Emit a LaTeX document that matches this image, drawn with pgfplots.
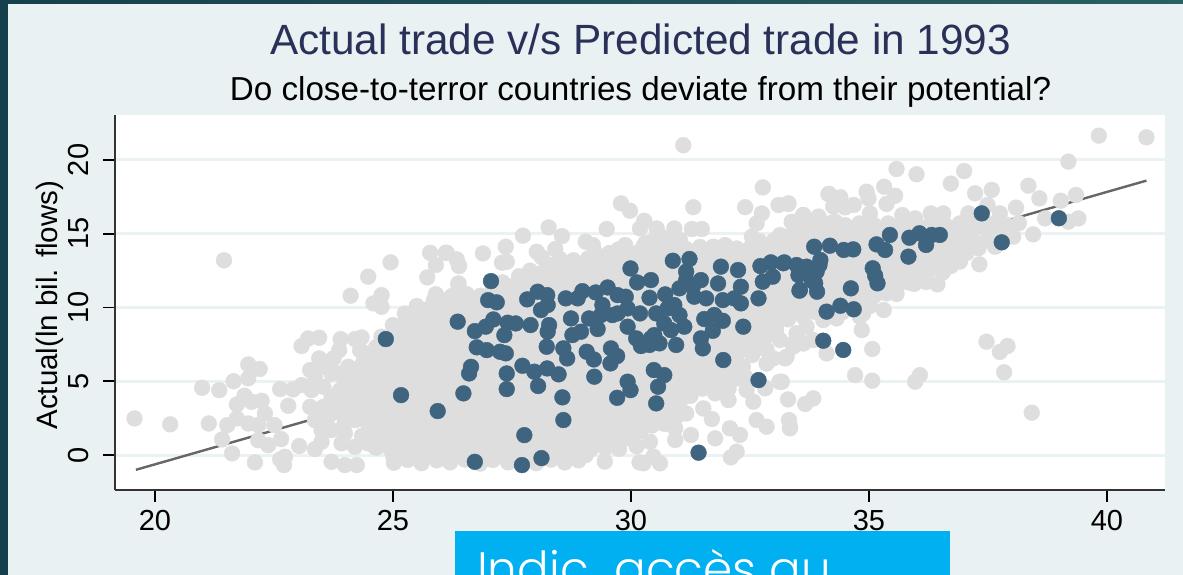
\documentclass[border=0pt]{standalone}
\usepackage{pgfplots}
\pgfplotsset{compat=1.18}
\usepackage{fontspec}
\setmainfont{Liberation Sans}
\newfontfamily\boxfont{Poppins Light}
\definecolor{bgc}{HTML}{EAF1F3}
\definecolor{gridc}{HTML}{EAF2F4}
\definecolor{greyc}{HTML}{DEDEDE}
\definecolor{bluec}{HTML}{3E6480}
\definecolor{linec}{HTML}{666666}
\definecolor{stripe}{HTML}{163F4E}
\definecolor{stripeb}{HTML}{2A6062}
\definecolor{titlec}{HTML}{2A3158}
\definecolor{boxc}{HTML}{00B0F0}
\begin{document}
\begin{tikzpicture}[x=1pt,y=1pt]
\useasboundingbox (0,0) rectangle (1183,575);
\fill[bgc] (0,0) rectangle (1183,575);
\fill[stripe] (0,0) rectangle (8,575);
\fill[left color=stripe,right color=stripeb,draw=none] (0,571) rectangle (1183,575);
\node[anchor=base,text=titlec,font=\fontsize{42.3}{42}\selectfont,inner sep=0pt] at (640.5,520) {Actual trade v/s Predicted trade in 1993};
\node[anchor=base,text=black,font=\fontsize{33.2}{33}\selectfont,inner sep=0pt] at (640.5,474) {Do close-to-terror countries deviate from their potential?};
\begin{axis}[
  at={(115pt,85pt)},anchor=south west,
  scale only axis,width=1050pt,height=375pt,
  xmin=19.16,xmax=41.22,ymin=-2.37,ymax=23.05,
  axis lines=left,axis line style={-,line width=2pt,draw=black!80},
  axis background/.style={fill=white},
  clip=true,
  xtick={20,25,30,35,40},ytick={0,5,10,15,20},
  tick align=outside,tick pos=left,
  major tick length=12pt,
  every tick/.style={black,line width=1.8pt},
  ymajorgrids,grid style={gridc,line width=3pt},
  /pgf/number format/assume math mode=true,
  tick label style={font=\fontsize{29}{29}\selectfont,text=black},
  yticklabel style={rotate=90,anchor=south,inner xsep=0pt,inner ysep=14pt},
  xticklabel style={anchor=north,inner xsep=0pt,inner ysep=8pt},
  ylabel={Actual(ln bil. flows)},
  every axis y label/.style={at={(axis description cs:-0.062,0.493)},anchor=center,rotate=90,font=\fontsize{29.5}{29.5}\selectfont},
]
\addplot[only marks,mark=*,mark size=7.9pt,color=greyc,mark options={draw=none,fill=greyc}] coordinates {
(19.57,2.48)(20.32,2.08)(21.45,13.2)(20.99,4.56)(21.35,4.4)(21.65,5.0)(21.96,6.14)(22.2,5.83)(21.96,5.2)
(21.88,4.02)(21.72,3.43)(22.24,3.68)(22.03,3.61)(22.31,2.82)(21.72,2.48)(21.52,2.03)(21.13,2.14)(21.96,2.14)(22.17,2.03)(22.51,2.03)
(21.41,1.06)(21.62,0.11)(22.1,-0.5)(22.63,-0.3)(22.71,-0.68)(22.73,-0.12)(22.17,1.0)(22.38,0.67)(22.65,1.08)(23.03,0.61)(23.36,0.4)(23.5,0.9)
(22.63,4.47)(22.9,4.45)(22.8,3.34)(23.08,7.39)(23.22,7.9)(23.45,7.95)(23.9,7.86)(24.2,7.86)(24.34,7.97)(24.31,7.11)(23.87,7.11)(23.75,6.55)(23.45,6.55)
(23.26,5.76)(23.54,5.98)(23.36,5.3)(23.08,4.74)(23.29,4.4)(23.54,4.63)(23.71,5.53)(24.06,5.98)(23.85,5.53)(23.89,4.4)(23.71,3.95)(23.26,3.27)(23.54,3.27)
(23.36,2.37)(23.64,2.6)(23.5,1.69)(23.92,2.82)(24.2,2.37)(23.71,1.69)(23.99,1.47)(23.92,0.79)(23.71,-0.46)(23.99,-0.68)(24.24,-0.68)(24.2,0.56)(24.48,0.79)(24.62,0.56)(25.0,0)
(24.11,10.8)(24.48,12.09)(24.95,13.06)(24.59,10.28)(24.76,10.84)(24.76,10.05)(25.78,13.71)(26.11,13.71)(26.34,13.26)(26.39,12.81)(25.9,12.88)(25.72,12.04)(26.37,11.59)(25.86,10.5)(25.25,9.6)(25.57,9.71)(25.0,8.81)(24.76,8.02)
(31.1,21.0)(32.77,18.14)(32.4,16.8)(31.31,16.8)(29.79,17.06)(29.98,16.56)(33.1,16.95)(33.31,17.06)(34.15,17.69)(32.75,16.38)(30.28,15.88)(30.19,15.36)(30.54,15.36)(30.91,15.36)(31.28,15.32)(31.49,15.32)(29.49,15.32)(28.27,15.43)(28.55,14.84)(27.73,14.87)(27.37,14.12)(26.89,13.67)(26.13,13.71)(26.38,12.88)(28.41,13.96)(28.02,13.78)(28.13,13.4)(29.05,14.46)(29.2,14.23)(29.88,14.23)(29.74,13.94)(27.39,13.1)(27.29,13.04)(26.38,11.63)(28.48,13.0)(28.86,12.88)(29.07,13.1)(29.25,13.1)(30.3,14.35)(30.26,14.12)(30.68,14.35)(31.03,14.57)(32.54,14.8)(33.13,14.91)(33.27,14.8)(33.38,15.8)(33.62,16.27)(33.94,16.11)(32.64,15.7)(31.73,14.12)(31.98,14.23)(32.22,14.0)(27.57,11.4)(28.09,12.3)
(39.83,21.65)(40.83,21.54)(39.19,19.89)(35.58,19.39)(36.0,19.03)(37.0,19.25)(36.72,18.4)(37.23,17.74)(37.58,17.97)(38.35,18.26)(38.58,17.4)(39.35,17.63)(39.03,17.24)(38.09,16.77)(34.95,17.85)(35.32,18.19)(35.55,17.58)(35.37,17.02)(34.99,17.4)(34.16,17.7)(34.4,17.47)(34.68,16.95)(34.5,16.79)(34.25,16.84)(33.3,17.02)(35.7,16.27)(36.3,16.38)(36.56,16.38)(37.09,16.38)(37.49,16.95)(37.75,16.38)(38.7,16.04)(39.19,15.82)(39.4,16.04)(38.45,14.96)(38.03,14.8)(37.49,14.58)(37.89,15.6)(37.33,15.48)(36.91,15.7)(36.77,14.8)(37.09,14.12)(36.49,13.9)(36.91,13.11)(36.72,12.81)(37.32,12.93)(36.44,11.57)(35.83,11.7)(36.04,12.32)(36.25,12.88)(35.58,10.92)(35.37,10.96)(35.31,9.83)(35.13,11.3)(35.51,11.75)(35.97,16.04)(35.4,15.7)(35.02,16.38)(33.94,16.16)(33.62,16.27)(33.38,15.8)(34.29,15.82)(34.85,8.47)(35.07,7.19)(34.71,5.42)(35.07,5.04)(36.07,5.42)(35.97,4.97)(37.47,7.68)(37.75,6.99)(37.91,7.39)(37.84,5.61)(38.42,2.87)(33.3,3.77)(33.83,3.84)(33.66,3.46)(33.32,2.37)(33.34,1.92)(34.11,6.89)(33.24,6.55)(33.62,7.57)(33.41,7.35)(33.83,7.8)(34.88,9.6)(33.17,4.97)
(33.12,4.97)(32.82,4.52)(32.43,4.41)(32.05,3.73)(32.57,3.62)(31.52,3.16)(31.7,2.44)(32.64,2.37)(32.85,1.92)(33.34,1.81)(32.08,1.81)(32.29,1.36)(31.77,1.13)(31.26,1.36)(30.93,1.02)(30.4,0.9)(32.22,0.23)(32.1,-0.16)(30.61,-0.56)(30.47,-0.11)(30.26,-0.56)
(31.0,2.71)(30.93,1.81)(30.68,2.15)(31.77,4.18)(31.73,4.74)(31.38,4.62)(31.1,4.18)(32.29,5.54)(32.22,6.2)(32.85,6.2)(32.99,6.55)(33.27,6.67)(33.45,7.69)(33.62,7.57)(33.48,8.25)(33.69,8.7)(33.62,9.38)(34.04,9.15)(34.32,9.26)(34.81,9.38)(33.13,7.8)(32.85,7.12)
% main body, row by row
(25.02,-0.52)(25.31,-0.33)(25.6,-0.55)(25.92,-0.36)(26.2,-0.5)(26.51,-0.31)(26.83,-0.58)(27.1,-0.33)(27.42,-0.5)(27.7,-0.35)(28.01,-0.55)(28.32,-0.31)(28.61,-0.5)(28.9,-0.36)(29.45,-0.44)(30.18,-0.5)
(24.65,0.5)(24.95,0.38)(25.26,0.52)(25.55,0.4)(25.84,0.5)(26.15,0.36)(26.44,0.53)(26.76,0.38)(27.05,0.5)(27.36,0.41)(27.64,0.52)(27.95,0.37)(28.26,0.5)(28.55,0.39)(28.86,0.52)(29.15,0.38)(29.46,0.5)(29.75,0.42)(30.12,0.6)
(24.35,1.3)(24.64,1.18)(24.93,1.31)(25.22,1.2)(25.53,1.33)(25.82,1.17)(26.11,1.3)(26.42,1.2)(26.73,1.32)(27.02,1.18)(27.31,1.3)(27.6,1.21)(27.91,1.33)(28.2,1.17)(28.51,1.3)(28.8,1.2)(29.1,1.32)(29.39,1.18)(29.7,1.3)(30.0,1.1)
(23.98,2.1)(24.5,2.0)(24.79,2.12)(25.08,1.98)(25.39,2.1)(25.68,2.0)(25.97,2.13)(26.28,1.97)(26.57,2.1)(26.88,2.02)(27.17,2.12)(27.46,1.98)(27.77,2.1)(28.06,2.0)(28.37,2.13)(28.66,1.97)(28.95,2.1)(29.26,2.02)(29.55,2.12)(29.86,1.98)(30.15,2.1)(30.44,2.0)(30.72,2.12)
(24.35,2.9)(24.64,2.78)(24.95,2.91)(25.24,2.8)(25.53,2.92)(25.84,2.77)(26.13,2.9)(26.42,2.82)(26.73,2.93)(27.02,2.78)(27.33,2.9)(27.62,2.8)(27.91,2.92)(28.22,2.77)(28.51,2.9)(28.82,2.82)(29.1,2.93)(29.4,2.78)(29.7,2.9)(30.0,2.8)(30.28,2.92)(30.58,2.78)(30.88,2.9)(31.16,2.82)
(23.98,3.7)(24.2,3.6)(24.5,3.72)(24.79,3.58)(25.1,3.7)(25.39,3.6)(25.68,3.73)(25.99,3.57)(26.28,3.7)(26.59,3.62)(26.88,3.72)(27.17,3.58)(27.48,3.7)(27.77,3.6)(28.06,3.73)(28.37,3.57)(28.66,3.7)(28.95,3.62)(29.26,3.72)(29.55,3.58)(29.86,3.7)(30.15,3.6)(30.44,3.73)(30.75,3.57)(31.04,3.7)
(24.15,4.5)(24.35,4.38)(24.64,4.5)(24.95,4.4)(25.24,4.52)(25.55,4.37)(25.84,4.5)(26.13,4.42)(26.44,4.53)(26.73,4.38)(27.04,4.5)(27.33,4.4)(27.62,4.52)(27.93,4.37)(28.22,4.5)(28.53,4.42)(28.82,4.53)(29.11,4.38)(29.42,4.5)(29.71,4.4)(30.0,4.52)(30.31,4.37)(30.6,4.5)(30.91,4.42)(31.5,4.5)(31.8,4.38)(32.05,4.5)
(24.2,5.3)(24.5,5.2)(24.79,5.32)(25.1,5.18)(25.39,5.3)(25.68,5.2)(25.99,5.33)(26.28,5.17)(26.59,5.3)(26.88,5.22)(27.17,5.32)(27.48,5.18)(27.77,5.3)(28.06,5.2)(28.37,5.33)(28.66,5.17)(28.97,5.3)(29.26,5.22)(29.55,5.32)(29.86,5.18)(30.15,5.3)(30.44,5.2)(30.75,5.33)(31.04,5.17)(31.35,5.3)(31.64,5.22)(31.93,5.32)(32.2,5.18)(32.4,5.3)
(24.35,6.1)(24.64,5.98)(24.95,6.1)(25.24,6.0)(25.55,6.12)(25.84,5.97)(26.13,6.1)(26.44,6.02)(26.73,6.13)(27.04,5.98)(27.33,6.1)(27.62,6.0)(27.93,6.12)(28.22,5.97)(28.53,6.1)(28.82,6.02)(29.11,6.13)(29.42,5.98)(29.71,6.1)(30.0,6.0)(30.31,6.12)(30.6,5.97)(30.91,6.1)(31.2,6.02)(31.49,6.13)(31.8,5.98)(32.09,6.1)(32.35,6.0)
(24.5,6.9)(24.79,6.8)(25.1,6.92)(25.39,6.78)(25.68,6.9)(25.99,6.8)(26.28,6.93)(26.59,6.77)(26.88,6.9)(27.17,6.82)(27.48,6.92)(27.77,6.78)(28.06,6.9)(28.37,6.8)(28.66,6.93)(28.97,6.77)(29.26,6.9)(29.57,6.82)(29.86,6.92)(30.15,6.78)(30.46,6.9)(30.75,6.8)(31.04,6.93)(31.35,6.77)(31.64,6.9)(31.95,6.82)(32.24,6.92)(32.55,6.78)
(24.95,7.7)(25.24,7.58)(25.55,7.7)(25.84,7.6)(26.13,7.72)(26.44,7.57)(26.73,7.7)(27.04,7.62)(27.33,7.73)(27.62,7.58)(27.93,7.7)(28.22,7.6)(28.53,7.72)(28.82,7.57)(29.13,7.7)(29.42,7.62)(29.71,7.73)(30.02,7.58)(30.31,7.7)(30.6,7.6)(30.91,7.72)(31.2,7.57)(31.51,7.7)(31.8,7.62)(32.09,7.73)(32.4,7.58)(32.7,7.7)
(25.1,8.5)(25.39,8.38)(25.68,8.5)(25.99,8.4)(26.28,8.52)(26.59,8.37)(26.88,8.5)(27.17,8.42)(27.48,8.53)(27.77,8.38)(28.08,8.5)(28.37,8.4)(28.66,8.52)(28.97,8.37)(29.26,8.5)(29.57,8.42)(29.86,8.53)(30.15,8.38)(30.46,8.5)(30.75,8.4)(31.04,8.52)(31.35,8.37)(31.64,8.5)(31.95,8.42)(32.24,8.53)(32.55,8.38)(32.84,8.5)(33.05,8.42)
(25.35,9.3)(25.66,9.18)(25.95,9.3)(26.24,9.2)(26.55,9.32)(26.84,9.17)(27.13,9.3)(27.44,9.22)(27.73,9.33)(28.04,9.18)(28.33,9.3)(28.62,9.2)(28.93,9.32)(29.22,9.17)(29.53,9.3)(29.82,9.22)(30.11,9.33)(30.42,9.18)(30.71,9.3)(31.02,9.2)(31.31,9.32)(31.6,9.17)(31.91,9.3)(32.2,9.22)(32.51,9.33)(32.8,9.18)(33.1,9.3)(33.3,9.2)
(25.5,10.1)(25.79,10.0)(26.1,10.12)(26.39,9.98)(26.7,10.1)(26.99,10.0)(27.28,10.13)(27.59,9.97)(27.88,10.1)(28.17,10.02)(28.48,10.12)(28.77,9.98)(29.08,10.1)(29.37,10.0)(29.66,10.13)(29.97,9.97)(30.26,10.1)(30.57,10.02)(30.86,10.12)(31.15,9.98)(31.46,10.1)(31.75,10.0)(32.04,10.13)(32.35,9.97)(32.64,10.1)(32.95,10.02)(33.24,10.12)(33.55,9.98)(33.84,10.1)(34.15,10.0)(34.44,10.13)(34.75,9.97)(35.02,10.1)
(25.9,10.9)(26.24,10.78)(26.55,10.9)(26.84,10.8)(27.13,10.92)(27.44,10.77)(27.73,10.9)(28.04,10.82)(28.33,10.93)(28.62,10.78)(28.93,10.9)(29.22,10.8)(29.53,10.92)(29.82,10.77)(30.11,10.9)(30.42,10.82)(30.71,10.93)(31.02,10.78)(31.31,10.9)(31.6,10.8)(31.91,10.92)(32.2,10.77)(32.51,10.9)(32.8,10.82)(33.09,10.93)(33.4,10.78)(33.69,10.9)(34.0,10.8)(34.29,10.92)(34.58,10.77)(34.89,10.9)(35.12,10.82)
(27.3,11.7)(27.59,11.6)(27.88,11.72)(28.17,11.58)(28.48,11.7)(28.77,11.6)(29.08,11.73)(29.37,11.57)(29.66,11.7)(29.97,11.62)(30.26,11.72)(30.57,11.58)(30.86,11.7)(31.15,11.6)(31.46,11.73)(31.75,11.57)(32.04,11.7)(32.35,11.62)(32.64,11.72)(32.95,11.58)(33.24,11.7)(33.55,11.6)(33.84,11.73)(34.15,11.57)(34.44,11.7)(34.75,11.62)(35.04,11.72)(35.35,11.58)(35.64,11.7)(35.95,11.6)(36.2,11.73)
(27.88,12.5)(28.19,12.38)(28.48,12.5)(28.77,12.4)(29.08,12.52)(29.37,12.37)(29.68,12.5)(29.97,12.42)(30.26,12.53)(30.57,12.38)(30.86,12.5)(31.15,12.4)(31.46,12.52)(31.75,12.37)(32.06,12.5)(32.35,12.42)(32.64,12.53)(32.95,12.38)(33.24,12.5)(33.55,12.4)(33.84,12.52)(34.15,12.37)(34.44,12.5)(34.75,12.42)(35.04,12.53)(35.35,12.38)(35.64,12.5)(35.95,12.4)(36.26,12.52)(36.55,12.37)
(28.5,13.3)(28.79,13.2)(29.1,13.32)(29.39,13.18)(29.7,13.3)(29.99,13.2)(30.28,13.33)(30.59,13.17)(30.88,13.3)(31.19,13.22)(31.48,13.32)(31.77,13.18)(32.08,13.3)(32.37,13.2)(32.66,13.33)(32.97,13.17)(33.26,13.3)(33.57,13.22)(33.86,13.32)(34.15,13.18)(34.46,13.3)(34.75,13.2)(35.04,13.33)(35.35,13.17)(35.64,13.3)(35.95,13.22)(36.24,13.32)(36.55,13.18)(36.85,13.3)
(29.85,14.1)(30.5,14.0)(30.85,14.12)(31.15,13.98)(31.45,14.1)(32.5,14.02)(32.8,14.12)(33.1,13.98)(33.4,14.1)(33.7,14.0)(34.0,14.13)(34.3,13.97)(34.6,14.1)(34.9,14.02)(35.2,14.12)(35.5,13.98)(35.8,14.1)(36.1,14.0)(36.4,14.13)(36.7,13.97)(37.0,14.1)(37.3,14.02)(37.65,14.12)
(30.6,14.9)(30.9,14.82)(33.45,14.9)(33.75,14.8)(34.05,14.92)(34.35,14.78)(34.65,14.9)(34.95,14.8)(35.25,14.93)(35.55,14.77)(35.85,14.9)(36.15,14.82)(36.45,14.92)(37.05,14.9)(37.7,14.85)(38.0,14.9)
(33.6,15.7)(33.9,15.6)(34.2,15.72)(34.5,15.58)(34.8,15.7)(35.1,15.6)(35.7,15.72)(36.0,15.58)(36.3,15.7)(36.6,15.6)(37.2,15.7)(37.6,15.65)(38.15,15.72)
% points between the rows
(25.15,0.0)(25.45,0.02)(25.75,-0.02)(26.05,0.01)(26.35,0.0)(26.65,-0.03)(26.95,0.02)(27.25,0.0)(27.55,0.03)(27.85,-0.02)(28.15,0.0)(28.45,0.02)(28.75,-0.01)(29.05,0.0)
(24.8,0.82)(25.1,0.8)(25.4,0.78)(25.7,0.82)(26.0,0.8)(26.3,0.78)(26.6,0.82)(26.9,0.8)(27.2,0.78)(27.5,0.81)(27.8,0.8)(28.1,0.79)(28.4,0.82)(28.7,0.8)(29.0,0.78)(29.3,0.82)(29.6,0.8)
(24.5,1.6)(24.8,1.62)(25.1,1.58)(25.4,1.6)(25.7,1.62)(26.0,1.58)(26.3,1.6)(26.6,1.61)(26.9,1.59)(27.2,1.6)(27.5,1.62)(27.8,1.58)(28.1,1.6)(28.4,1.62)(28.7,1.58)(29.0,1.6)(29.3,1.61)(29.6,1.59)(29.9,1.6)(30.2,1.62)
(24.25,2.42)(24.55,2.4)(24.85,2.38)(25.15,2.42)(25.45,2.4)(25.75,2.38)(26.05,2.41)(26.35,2.4)(26.65,2.39)(26.95,2.42)(27.25,2.4)(27.55,2.38)(27.85,2.42)(28.15,2.4)(28.45,2.38)(28.75,2.41)(29.05,2.4)(29.35,2.39)(29.65,2.42)(29.95,2.4)(30.25,2.38)(30.55,2.42)(30.85,2.4)
(23.8,3.2)(24.1,3.22)(24.4,3.18)(24.7,3.2)(25.0,3.22)(25.3,3.18)(25.6,3.2)(25.9,3.21)(26.2,3.19)(26.5,3.2)(26.8,3.22)(27.1,3.18)(27.4,3.2)(27.7,3.22)(28.0,3.18)(28.3,3.2)(28.6,3.21)(28.9,3.19)(29.2,3.2)(29.5,3.22)(29.8,3.18)(30.1,3.2)(30.4,3.22)(30.7,3.18)(31.0,3.2)
(24.05,4.02)(24.35,4.0)(24.65,3.98)(24.95,4.02)(25.25,4.0)(25.55,3.98)(25.85,4.01)(26.15,4.0)(26.45,3.99)(26.75,4.02)(27.05,4.0)(27.35,3.98)(27.65,4.02)(27.95,4.0)(28.25,3.98)(28.55,4.01)(28.85,4.0)(29.15,3.99)(29.45,4.02)(29.75,4.0)(30.05,3.98)(30.35,4.02)(30.65,4.0)(30.95,3.98)(31.25,4.01)
(24.0,4.9)(24.3,4.92)(24.6,4.88)(24.9,4.9)(25.2,4.92)(25.5,4.88)(25.8,4.9)(26.1,4.91)(26.4,4.89)(26.7,4.9)(27.0,4.92)(27.3,4.88)(27.6,4.9)(27.9,4.92)(28.2,4.88)(28.5,4.9)(28.8,4.91)(29.1,4.89)(29.4,4.9)(29.7,4.92)(30.0,4.88)(30.3,4.9)(30.6,4.92)(30.9,4.88)(31.2,4.9)(31.5,4.91)(31.8,4.89)
(24.15,5.72)(24.45,5.7)(24.75,5.68)(25.05,5.72)(25.35,5.7)(25.65,5.68)(25.95,5.71)(26.25,5.7)(26.55,5.69)(26.85,5.72)(27.15,5.7)(27.45,5.68)(27.75,5.72)(28.05,5.7)(28.35,5.68)(28.65,5.71)(28.95,5.7)(29.25,5.69)(29.55,5.72)(29.85,5.7)(30.15,5.68)(30.45,5.72)(30.75,5.7)(31.05,5.68)(31.35,5.71)(31.65,5.7)(31.95,5.69)(32.25,5.72)
(24.4,6.5)(24.7,6.52)(25.0,6.48)(25.3,6.5)(25.6,6.52)(25.9,6.48)(26.2,6.5)(26.5,6.51)(26.8,6.49)(27.1,6.5)(27.4,6.52)(27.7,6.48)(28.0,6.5)(28.3,6.52)(28.6,6.48)(28.9,6.5)(29.2,6.51)(29.5,6.49)(29.8,6.5)(30.1,6.52)(30.4,6.48)(30.7,6.5)(31.0,6.52)(31.3,6.48)(31.6,6.5)(31.9,6.51)(32.2,6.49)
(24.65,7.32)(24.95,7.3)(25.25,7.28)(25.55,7.32)(25.85,7.3)(26.15,7.28)(26.45,7.31)(26.75,7.3)(27.05,7.29)(27.35,7.32)(27.65,7.3)(27.95,7.28)(28.25,7.32)(28.55,7.3)(28.85,7.28)(29.15,7.31)(29.45,7.3)(29.75,7.29)(30.05,7.32)(30.35,7.3)(30.65,7.28)(30.95,7.32)(31.25,7.3)(31.55,7.28)(31.85,7.31)(32.15,7.3)(32.45,7.29)
(25.05,8.1)(25.35,8.12)(25.65,8.08)(25.95,8.1)(26.25,8.12)(26.55,8.08)(26.85,8.1)(27.15,8.11)(27.45,8.09)(27.75,8.1)(28.05,8.12)(28.35,8.08)(28.65,8.1)(28.95,8.12)(29.25,8.08)(29.55,8.1)(29.85,8.11)(30.15,8.09)(30.45,8.1)(30.75,8.12)(31.05,8.08)(31.35,8.1)(31.65,8.12)(31.95,8.08)(32.25,8.1)(32.55,8.11)(32.85,8.09)
(25.25,8.92)(25.55,8.9)(25.85,8.88)(26.15,8.92)(26.45,8.9)(26.75,8.88)(27.05,8.91)(27.35,8.9)(27.65,8.89)(27.95,8.92)(28.25,8.9)(28.55,8.88)(28.85,8.92)(29.15,8.9)(29.45,8.88)(29.75,8.91)(30.05,8.9)(30.35,8.89)(30.65,8.92)(30.95,8.9)(31.25,8.88)(31.55,8.92)(31.85,8.9)(32.15,8.88)(32.45,8.91)(32.75,8.9)(33.05,8.89)
(25.45,9.7)(25.75,9.72)(26.05,9.68)(26.35,9.7)(26.65,9.72)(26.95,9.68)(27.25,9.7)(27.55,9.71)(27.85,9.69)(28.15,9.7)(28.45,9.72)(28.75,9.68)(29.05,9.7)(29.35,9.72)(29.65,9.68)(29.95,9.7)(30.25,9.71)(30.55,9.69)(30.85,9.7)(31.15,9.72)(31.45,9.68)(31.75,9.7)(32.05,9.72)(32.35,9.68)(32.65,9.7)(32.95,9.71)(33.25,9.69)(33.55,9.7)(33.85,9.72)(34.15,9.68)(34.45,9.7)(34.75,9.72)
(26.0,10.52)(26.3,10.5)(26.6,10.48)(26.9,10.52)(27.2,10.5)(27.5,10.48)(27.8,10.51)(28.1,10.5)(28.4,10.49)(28.7,10.52)(29.0,10.5)(29.3,10.48)(29.6,10.52)(29.9,10.5)(30.2,10.48)(30.5,10.51)(30.8,10.5)(31.1,10.49)(31.4,10.52)(31.7,10.5)(32.0,10.48)(32.3,10.52)(32.6,10.5)(32.9,10.48)(33.2,10.51)(33.5,10.5)(33.8,10.49)(34.1,10.52)(34.4,10.5)(34.7,10.48)(35.0,10.52)
(27.1,11.3)(27.4,11.32)(27.7,11.28)(28.0,11.3)(28.3,11.32)(28.6,11.28)(28.9,11.3)(29.2,11.31)(29.5,11.29)(29.8,11.3)(30.1,11.32)(30.4,11.28)(30.7,11.3)(31.0,11.32)(31.3,11.28)(31.6,11.3)(31.9,11.31)(32.2,11.29)(32.5,11.3)(32.8,11.32)(33.1,11.28)(33.4,11.3)(33.7,11.32)(34.0,11.28)(34.3,11.3)(34.6,11.31)(34.9,11.29)(35.2,11.3)
(27.65,12.12)(27.95,12.1)(28.25,12.08)(28.55,12.12)(28.85,12.1)(29.15,12.08)(29.45,12.11)(29.75,12.1)(30.05,12.09)(30.35,12.12)(30.65,12.1)(30.95,12.08)(31.25,12.12)(31.55,12.1)(31.85,12.08)(32.15,12.11)(32.45,12.1)(32.75,12.09)(33.05,12.12)(33.35,12.1)(33.65,12.08)(33.95,12.12)(34.25,12.1)(34.55,12.08)(34.85,12.11)(35.15,12.1)(35.45,12.09)(35.75,12.12)(36.05,12.1)
(28.25,12.9)(28.55,12.92)(28.85,12.88)(29.15,12.9)(29.45,12.92)(29.75,12.88)(30.05,12.9)(30.35,12.91)(30.65,12.89)(30.95,12.9)(31.25,12.92)(31.55,12.88)(31.85,12.9)(32.15,12.92)(32.45,12.88)(32.75,12.9)(33.05,12.91)(33.35,12.89)(33.65,12.9)(33.95,12.92)(34.25,12.88)(34.55,12.9)(34.85,12.92)(35.15,12.88)(35.45,12.9)(35.75,12.91)(36.05,12.89)(36.35,12.9)(36.6,12.92)
(29.25,13.72)(29.55,13.7)(29.85,13.68)(30.15,13.72)(30.45,13.7)(30.75,13.68)(31.05,13.71)(31.35,13.7)(31.65,13.69)(31.95,13.72)(32.25,13.7)(32.55,13.68)(32.85,13.72)(33.15,13.7)(33.45,13.68)(33.75,13.71)(34.05,13.7)(34.35,13.69)(34.65,13.72)(34.95,13.7)(35.25,13.68)(35.55,13.72)(35.85,13.7)(36.15,13.68)(36.45,13.71)(36.75,13.7)(37.05,13.69)
(30.45,14.5)(30.75,14.52)(32.7,14.5)(33.0,14.52)(33.3,14.48)(33.6,14.5)(33.9,14.52)(34.2,14.48)(34.5,14.5)(34.8,14.51)(35.1,14.49)(35.4,14.5)(35.7,14.52)(36.0,14.48)(36.3,14.5)(36.6,14.52)(36.9,14.48)(37.2,14.5)(37.8,14.51)
(33.6,15.32)(33.9,15.3)(34.2,15.28)(34.5,15.32)(34.8,15.3)(35.1,15.28)(35.4,15.31)(35.7,15.3)(36.0,15.29)(36.3,15.32)(36.6,15.3)(36.9,15.28)(37.2,15.32)(37.5,15.3)(37.8,15.28)
};
\addplot[no marks,linec,line width=2.4pt] coordinates {(19.6,-1.0)(40.83,18.6)};
\addplot[only marks,mark=*,mark size=7.9pt,color=bluec,mark options={draw=none,fill=bluec}] coordinates {
(30.88,13.17)(31.23,13.29)(29.99,12.65)(31.89,12.77)(32.25,12.54)(32.72,12.81)(32.94,13.06)(33.22,13.06)(33.54,12.36)(27.06,11.79)(30.13,11.7)(30.42,11.86)(31.16,12.43)(31.16,11.86)(31.47,11.86)(31.83,11.63)(32.77,11.75)(32.98,12.09)
(27.0,10.5)(27.18,10.35)(27.82,10.55)(28.04,11.07)(28.24,10.84)(28.63,10.62)(28.88,10.62)(28.98,11.11)(29.26,11.02)(29.51,11.36)(29.72,10.84)(29.89,10.73)(30.39,10.66)(30.72,10.89)(31.02,11.3)(31.3,11.41)(31.33,10.73)(31.58,10.62)(31.93,10.5)(32.17,10.62)(32.31,11.41)(32.31,10.28)(32.68,10.62)(33.54,11.14)
(26.36,9.04)(26.72,8.4)(26.95,8.7)(27.11,9.19)(27.41,8.97)(27.58,8.92)(27.89,8.81)(28.11,9.83)(28.25,10.17)(28.28,8.81)(28.25,8.36)(27.34,8.13)(28.74,9.26)(28.77,8.13)(28.95,8.36)(29.12,9.26)(29.3,8.54)(29.4,10.17)(29.37,9.49)(29.61,9.49)(29.72,9.6)(29.93,9.94)(29.93,8.7)(30.19,9.6)(30.53,9.6)(30.77,9.94)(30.91,10.17)(31.02,9.49)(31.12,8.7)(30.7,8.92)(30.84,8.47)(31.54,9.22)(31.75,9.49)(31.93,9.1)(31.72,8.42)(32.36,8.7)(31.47,7.91)(31.51,7.23)
(26.76,7.3)(26.97,7.11)(27.25,7.0)(27.37,6.89)(28.23,7.34)(28.58,7.23)(28.66,6.55)(29.07,7.0)(29.22,6.48)(29.58,7.23)(29.71,6.71)(29.57,6.21)(30.11,7.91)(30.21,7.39)(30.42,7.91)(30.6,7.57)(30.95,7.46)(30.49,8.13)(30.39,7.46)
(26.64,5.98)(26.6,5.53)(27.72,6.05)(27.97,5.65)(28.24,5.87)(28.48,5.47)(27.39,5.53)(31.94,6.44)(30.48,5.76)(30.7,5.42)
(26.48,4.18)(27.39,4.47)(28.05,4.68)(29.23,5.31)(29.93,4.97)(29.99,4.4)(30.57,4.63)(28.56,3.91)(29.71,3.88)(30.53,3.5)(32.68,5.08)(25.94,2.98)(28.58,2.37)(27.76,1.35)(26.72,-0.46)(27.71,-0.68)(28.12,-0.21)(31.42,0.16)(25.17,4.06)(24.85,7.86)
(37.37,16.38)(38.99,16.05)(37.79,14.42)(36.49,14.92)(36.32,14.92)(36.06,15.03)(35.85,14.73)(36.2,14.24)(35.83,13.45)(35.44,14.92)(35.16,14.28)(35.34,13.9)(34.18,14.19)(33.85,14.12)(34.47,13.9)(34.67,13.94)(33.98,13.22)(33.96,12.88)(33.2,13.0)(33.48,12.88)(33.69,12.77)(33.9,12.43)(33.52,12.2)(33.8,11.86)(33.55,11.2)(33.91,11.07)(33.87,11.64)(35.08,12.66)(35.13,12.16)(35.18,11.64)(34.62,11.3)(34.11,9.72)(34.4,10.12)(34.68,9.88)(34.04,7.75)(34.46,7.12)
};
\end{axis}
\fill[boxc] (455,0) rectangle (950,44);
\begin{scope}
\clip (455,0) rectangle (950,44);
\node[anchor=base west,text=white,font=\boxfont\fontsize{46.9}{46}\selectfont,inner sep=0pt] at (477,-11) {Indic. accès au};
\end{scope}
\end{tikzpicture}
\end{document}
